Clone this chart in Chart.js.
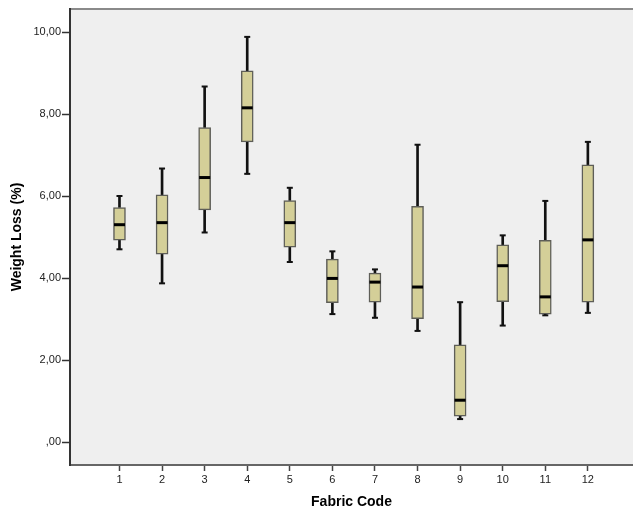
<!DOCTYPE html>
<html>
<head>
<meta charset="utf-8">
<script src="https://cdn.jsdelivr.net/npm/chart.js@4/dist/chart.umd.min.js"></script>
<style>
  html, body { margin: 0; padding: 0; background: #fff; }
  canvas { display: block; }
</style>
</head>
<body>
<canvas id="chart" width="633" height="514"></canvas>
<script>
// box plot values per fabric code
const fabricCodes = [1, 2, 3, 4, 5, 6, 7, 8, 9, 10, 11, 12];
const whiskerLow  = [4.71, 3.88, 5.12, 6.55, 4.40, 3.13, 3.04, 2.72, 0.57, 2.85, 3.10, 3.16];
const q1          = [4.93, 4.59, 5.67, 7.33, 4.76, 3.41, 3.42, 3.02, 0.64, 3.43, 3.13, 3.42];
const median      = [5.31, 5.36, 6.46, 8.16, 5.36, 4.00, 3.91, 3.79, 1.03, 4.31, 3.55, 4.94];
const q3          = [5.73, 6.04, 7.68, 9.06, 5.90, 4.47, 4.13, 5.76, 2.38, 4.82, 4.93, 6.77];
const whiskerHigh = [6.01, 6.68, 8.68, 9.89, 6.21, 4.66, 4.22, 7.26, 3.42, 5.05, 5.89, 7.33];
const yTicks = [0, 2, 4, 6, 8, 10];

const fmt = v => (v === 0 ? '' : String(Math.floor(v))) + ',' + v.toFixed(2).split('.')[1];

// plot background + top frame line
const plotBg = {
  id: 'plotBg',
  beforeDraw(chart) {
    const { ctx, chartArea: a } = chart;
    ctx.save();
    ctx.fillStyle = '#efefef';
    ctx.fillRect(a.left, a.top, a.right - a.left, a.bottom - a.top);
    ctx.strokeStyle = '#8a8a8a';
    ctx.lineWidth = 2;
    ctx.beginPath();
    ctx.moveTo(a.left, a.top);
    ctx.lineTo(a.right, a.top);
    ctx.stroke();
    ctx.restore();
  }
};

const bar = (lo, hi) => fabricCodes.map((c, i) => ({ x: c, y: [lo[i], hi[i]] }));
const pts = arr => fabricCodes.map((c, i) => ({ x: c, y: arr[i] }));

new Chart(document.getElementById('chart'), {
  type: 'bar',
  data: {
    datasets: [
      { type: 'bar', data: bar(whiskerLow, q1), backgroundColor: '#111', barThickness: 2, grouped: false, order: 3 },
      { type: 'bar', data: bar(q3, whiskerHigh), backgroundColor: '#111', barThickness: 2, grouped: false, order: 3 },
      { type: 'bar', data: bar(q1, q3), backgroundColor: '#d4cf98', borderColor: '#5e5e58', borderWidth: 1.5,
        borderSkipped: false, barThickness: 12, grouped: false, order: 2 },
      { type: 'scatter', data: pts(median), pointStyle: 'line', radius: 5.5, borderWidth: 3, borderColor: '#000', order: 1 },
      { type: 'scatter', data: pts(whiskerLow), pointStyle: 'line', radius: 3, borderWidth: 2, borderColor: '#111', order: 1 },
      { type: 'scatter', data: pts(whiskerHigh), pointStyle: 'line', radius: 3, borderWidth: 2, borderColor: '#111', order: 1 }
    ]
  },
  options: {
    responsive: false,
    animation: false,
    layout: { autoPadding: false, padding: { top: 9, right: 0, left: 0, bottom: 0 } },
    plugins: { legend: { display: false }, tooltip: { enabled: false } },
    scales: {
      x: {
        type: 'linear',
        offset: false,
        min: -0.162,
        max: 13.06,
        afterBuildTicks: s => { s.ticks = fabricCodes.map(v => ({ value: v })); },
        afterFit: s => { s.height = 49; s.paddingRight = 0; s.paddingLeft = 0; },
        ticks: { font: { family: 'Liberation Sans', size: 11 }, color: '#222', padding: 2, maxRotation: 0 },
        grid: { offset: false, drawOnChartArea: false, tickLength: 6, color: '#444', tickWidth: 1.5 },
        border: { color: '#666', width: 2 },
        title: { display: true, text: 'Fabric Code', color: '#000',
          font: { family: 'Liberation Sans', size: 14, weight: 'bold' }, padding: { top: 0, bottom: 3 } }
      },
      y: {
        min: -0.55,
        max: 10.57,
        afterBuildTicks: s => { s.ticks = yTicks.map(v => ({ value: v })); },
        afterFit: s => { s.width = 70; s.paddingTop = 0; s.paddingBottom = 0; },
        ticks: { font: { family: 'Liberation Sans', size: 11 }, color: '#222', padding: 1, callback: v => fmt(v) },
        grid: { drawOnChartArea: false, tickLength: 8, color: '#333', tickWidth: 1.5 },
        border: { color: '#333', width: 2 },
        title: { display: true, text: 'Weight Loss (%)', color: '#000',
          font: { family: 'Liberation Sans', size: 14, weight: 'bold' }, padding: { top: 9, bottom: 0 } }
      }
    }
  },
  plugins: [plotBg]
});
</script>
</body>
</html>
